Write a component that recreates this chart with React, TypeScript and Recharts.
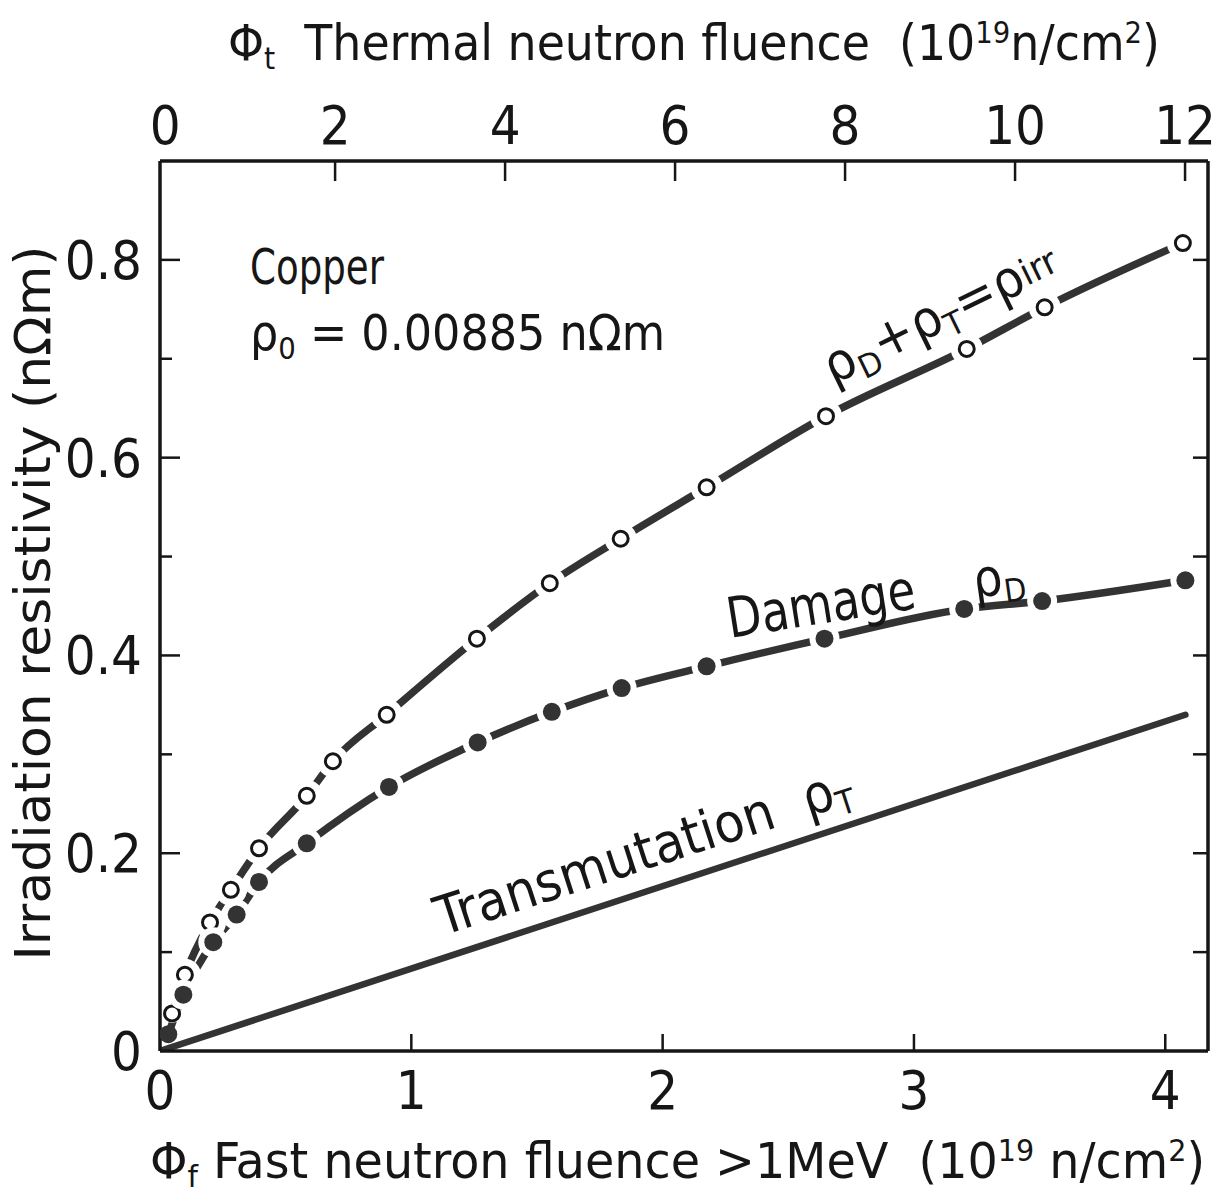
import React from "react";
import { ComposedChart, Line, XAxis, YAxis } from "recharts";

// fast fluence (1e19 n/cm2) vs resistivity (nOhm m)
const irrX = [0.048, 0.099, 0.199, 0.282, 0.394, 0.584, 0.688, 0.902, 1.261, 1.551, 1.833, 2.175, 2.65, 3.21, 3.52, 4.07];
const irrY = [0.038, 0.077, 0.13, 0.163, 0.205, 0.258, 0.293, 0.34, 0.417, 0.473, 0.518, 0.57, 0.642, 0.71, 0.752, 0.817];

const damageX = [0.033, 0.093, 0.212, 0.305, 0.394, 0.584, 0.911, 1.264, 1.559, 1.837, 2.175, 2.644, 3.2, 3.51, 4.08];
const damageY = [0.017, 0.057, 0.11, 0.138, 0.171, 0.21, 0.267, 0.312, 0.343, 0.367, 0.389, 0.417, 0.447, 0.455, 0.476];

const transX = [0, 4.08];
const transY = [0, 0.34];

const fastTicks = [0, 1, 2, 3, 4];
const thermalTicks = [0, 2, 4, 6, 8, 10, 12];
const resTicks = [0, 0.1, 0.2, 0.3, 0.4, 0.5, 0.6, 0.7, 0.8];
const rightTicks = [0.1, 0.2, 0.3, 0.4, 0.5, 0.6, 0.7, 0.8];

const irrData = irrX.map((x, i) => ({ x, y: irrY[i] }));
const damageData = damageX.map((x, i) => ({ x, y: damageY[i] }));
const transData = transX.map((x, i) => ({ x, y: transY[i] }));

const FONT = '"Liberation Sans Narrow", "DejaVu Sans Condensed", "DejaVu Sans", sans-serif';
const INK = "#161616";
const LINE = "#333";
const PLOT_LEFT = 160;

// white halo under each marker leaves the gap seen in the original,
// kept off the left frame line
const halo = (cx: number, r: number) => Math.max(0, Math.min(r, cx - PLOT_LEFT - 2.5));

const OpenDot = (p: any) => {
  if (p.cx == null || p.cy == null) return <g key={p.key} />;
  return (
    <g key={p.key}>
      <circle cx={p.cx} cy={p.cy} r={halo(p.cx, 16)} fill="#fff" />
      <circle cx={p.cx} cy={p.cy} r={7.5} fill="#fff" stroke={INK} strokeWidth={3} />
    </g>
  );
};

const FilledDot = (p: any) => {
  if (p.cx == null || p.cy == null) return <g key={p.key} />;
  return (
    <g key={p.key}>
      <circle cx={p.cx} cy={p.cy} r={halo(p.cx, 15)} fill="#fff" />
      <circle cx={p.cx} cy={p.cy} r={9} fill={LINE} />
    </g>
  );
};

const BottomTick = (p: any) => {
  const v = p.payload.value;
  return (
    <g>
      {v > 0 && <line x1={p.x} x2={p.x} y1={p.y} y2={p.y - 17} stroke={INK} strokeWidth={2.5} />}
      <text x={p.x} y={p.y + 58} textAnchor="middle" fontFamily={FONT} fontSize={54} fill={INK}>
        {v}
      </text>
    </g>
  );
};

const TopTick = (p: any) => {
  const v = p.payload.value;
  return (
    <g>
      {v > 0 && <line x1={p.x} x2={p.x} y1={p.y} y2={p.y + 20} stroke={INK} strokeWidth={2.5} />}
      <text x={p.x} y={p.y - 17} textAnchor="middle" fontFamily={FONT} fontSize={54} fill={INK}>
        {v}
      </text>
    </g>
  );
};

const LeftTick = (p: any) => {
  const v = p.payload.value;
  const major = Math.round(v * 10) % 2 === 0;
  return (
    <g>
      {v > 0 && <line x1={p.x} x2={p.x + (major ? 20 : 12)} y1={p.y} y2={p.y} stroke={INK} strokeWidth={2.5} />}
      {major && (
        <text x={p.x - 18} y={p.y + 19} textAnchor="end" fontFamily={FONT} fontSize={54} fill={INK}>
          {v === 0 ? "0" : v.toFixed(1)}
        </text>
      )}
    </g>
  );
};

const RightTick = (p: any) => (
  <line x1={p.x} x2={p.x - 15} y1={p.y} y2={p.y} stroke={INK} strokeWidth={2.5} />
);

const frame = { stroke: INK, strokeWidth: 3.5 };

function Sub({ children, size = 0.62, shift = 9 }: any) {
  return (
    <tspan baselineShift={-shift} fontSize={`${size}em`}>
      {children}
    </tspan>
  );
}

function Sup({ children, shift = 17 }: any) {
  return (
    <tspan baselineShift={shift} fontSize="0.6em">
      {children}
    </tspan>
  );
}

function Annotations() {
  const t = { fontFamily: FONT, fill: INK, style: { whiteSpace: "pre" as const } };
  return (
    <svg width={1227} height={1198} style={{ position: "absolute", left: 0, top: 0, pointerEvents: "none" }}>
      <text {...t} x={228} y={60} fontSize={50} textLength={932} lengthAdjust="spacingAndGlyphs">
        Φ<Sub>t</Sub>{"  Thermal neutron fluence  (10"}<Sup>19</Sup>n/cm<Sup>2</Sup>)
      </text>
      <text {...t} x={150} y={1178} fontSize={50} textLength={1055} lengthAdjust="spacingAndGlyphs">
        Φ<Sub>f</Sub>{" Fast neutron fluence >1MeV  (10"}<Sup>19</Sup>{" n/cm"}<Sup>2</Sup>)
      </text>
      <text {...t} transform="translate(50,603) rotate(-90)" textAnchor="middle" fontSize={50} textLength={715} lengthAdjust="spacingAndGlyphs">
        Irradiation resistivity (nΩm)
      </text>
      <text {...t} x={250} y={284} fontSize={50} textLength={134} lengthAdjust="spacingAndGlyphs">
        Copper
      </text>
      <text {...t} x={250} y={350} fontSize={50} textLength={415} lengthAdjust="spacingAndGlyphs">
        ρ<Sub>0</Sub>{" = 0.00885 nΩm"}
      </text>
      <text {...t} transform="translate(833,385) rotate(-26)" fontSize={52} textLength={255} lengthAdjust="spacingAndGlyphs">
        ρ<Sub>D</Sub>+ρ<Sub>T</Sub>=ρ<Sub size={0.7} shift={-4}>irr</Sub>
      </text>
      <text {...t} transform="translate(730,638) rotate(-9)" fontSize={56} textLength={190} lengthAdjust="spacingAndGlyphs">
        Damage
      </text>
      <text {...t} transform="translate(975,598) rotate(-8)" fontSize={52}>
        ρ<Sub>D</Sub>
      </text>
      <text {...t} transform="translate(442,936) rotate(-18)" fontSize={54} textLength={435} lengthAdjust="spacingAndGlyphs">
        {"Transmutation  ρ"}<Sub>T</Sub>
      </text>
    </svg>
  );
}

export default function App() {
  return (
    <div style={{ position: "absolute", left: 0, top: 0, width: 1227, height: 1198, background: "#fff" }}>
      <ComposedChart width={1227} height={1198} margin={{ top: 0, right: 0, bottom: 0, left: 0 }}>
        <XAxis
          xAxisId="fast"
          type="number"
          dataKey="x"
          orientation="bottom"
          domain={[0, 4.17]}
          allowDataOverflow
          ticks={fastTicks}
          interval={0}
          height={147}
          tickSize={0}
          tickMargin={0}
          axisLine={frame}
          tick={(p: any) => <BottomTick {...p} />}
        />
        <XAxis
          xAxisId="thermal"
          type="number"
          dataKey="x"
          orientation="top"
          domain={[-0.06, 12.27]}
          allowDataOverflow
          ticks={thermalTicks}
          interval={0}
          height={161}
          tickSize={0}
          tickMargin={0}
          axisLine={frame}
          tick={(p: any) => <TopTick {...p} />}
        />
        <YAxis
          yAxisId="res"
          type="number"
          orientation="left"
          domain={[0, 0.9]}
          allowDataOverflow
          ticks={resTicks}
          interval={0}
          width={PLOT_LEFT}
          tickSize={0}
          tickMargin={0}
          axisLine={frame}
          tick={(p: any) => <LeftTick {...p} />}
        />
        <YAxis
          yAxisId="resRight"
          type="number"
          orientation="right"
          domain={[0, 0.9]}
          allowDataOverflow
          ticks={rightTicks}
          interval={0}
          width={19}
          tickSize={0}
          tickMargin={0}
          axisLine={frame}
          tick={(p: any) => <RightTick {...p} />}
        />
        <Line
          data={transData}
          xAxisId="fast"
          yAxisId="resRight"
          dataKey="y"
          type="linear"
          stroke={LINE}
          strokeWidth={6.5}
          strokeLinecap="round"
          dot={false}
          isAnimationActive={false}
        />
        <Line
          data={irrData}
          xAxisId="fast"
          yAxisId="res"
          dataKey="y"
          type="monotone"
          stroke={LINE}
          strokeWidth={7.5}
          strokeLinecap="round"
          dot={(p: any) => <OpenDot {...p} />}
          isAnimationActive={false}
        />
        <Line
          data={damageData}
          xAxisId="fast"
          yAxisId="res"
          dataKey="y"
          type="monotone"
          stroke={LINE}
          strokeWidth={7.5}
          strokeLinecap="round"
          dot={(p: any) => <FilledDot {...p} />}
          isAnimationActive={false}
        />
      </ComposedChart>
      <Annotations />
    </div>
  );
}
